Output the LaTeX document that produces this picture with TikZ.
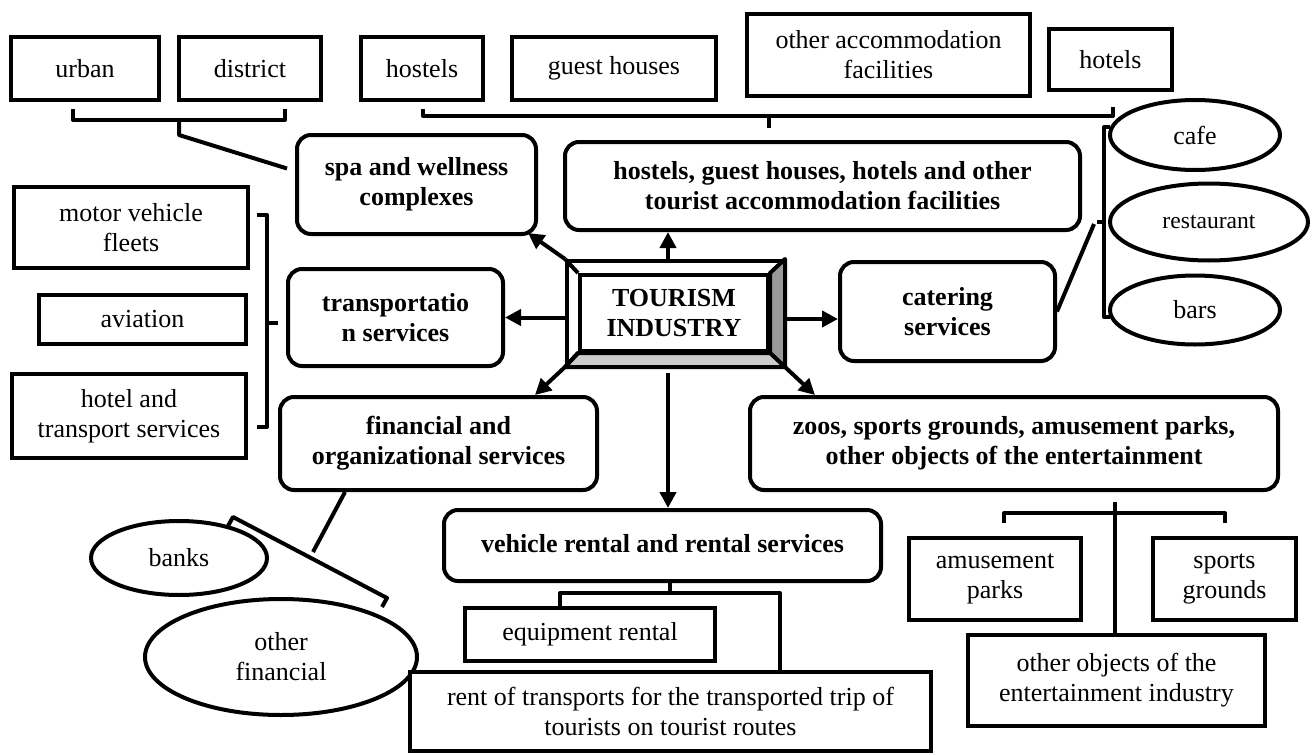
\documentclass[tikz,border=0pt]{standalone}
\usepackage{fontspec}
\setmainfont{Liberation Serif}
\usetikzlibrary{calc,arrows.meta,shapes.geometric}
\begin{document}
\begin{tikzpicture}[x=0.5pt,y=-0.5pt,
  every node/.style={font=\fontsize{13}{15}\selectfont, align=center, inner sep=0pt},
  plain/.style={draw, line width=2pt, fill=white, rectangle},
  rbox/.style={plain, rounded corners=7pt, font=\bfseries\fontsize{13}{15}\selectfont},
  ell/.style={draw, line width=2pt, fill=white, ellipse},
  conn/.style={line width=2pt, line join=round},
  arr/.style={line width=2pt, -{Triangle[length=8pt,width=8pt]}}
]
\useasboundingbox (0,0) rectangle (1313,755);

% top row
\node[plain, minimum width=74pt, minimum height=31.5pt] (urban) at (85,68.5) {urban};
\node[plain, minimum width=71pt, minimum height=31.5pt] (district) at (250,68.5) {district};
\node[plain, minimum width=61pt, minimum height=31.5pt] (hostels) at (422,68.5) {hostels};
\node[plain, minimum width=102pt, minimum height=31.5pt] (guest) at (614,68.5) {guest houses};
\node[plain, minimum width=141.5pt, minimum height=41pt] (otheracc) at (888.5,55) {other accommodation\\facilities};
\node[plain, minimum width=61.5pt, minimum height=30.5pt] (hotels) at (1110.5,59.5) {hotels};

% second level
\node[rbox, minimum width=119.5pt, minimum height=49.5pt] (spa) at (416.5,184.5) {spa and wellness\\complexes};
\node[rbox, minimum width=257.5pt, minimum height=44pt] (acc) at (822.5,186) {hostels, guest houses, hotels and other\\tourist accommodation facilities};

% left column
\node[plain, minimum width=117pt, minimum height=40.5pt] (motor) at (131,227.5) {motor vehicle\\fleets};
\node[plain, minimum width=103.5pt, minimum height=24.5pt] (aviation) at (142.5,319.5) {aviation};
\node[plain, minimum width=117pt, minimum height=42pt] (hoteltr) at (129,416) {hotel and\\transport services};

\node[rbox, minimum width=107.5pt, minimum height=48.5pt] (transp) at (395.5,317.5) {transportatio\\n services};
\node[rbox, minimum width=107.5pt, minimum height=49.5pt] (catering) at (947.5,311.5) {catering\\services};

% central node
\node[plain, minimum width=108pt, minimum height=52pt] (tour) at (675,313) {};
\node[plain, minimum width=94pt, minimum height=38pt, font=\bfseries\fontsize{13}{15}\selectfont] (tourin) at (674,313) {TOURISM\\INDUSTRY};
\filldraw[fill=black!40, line width=2pt, line join=round] (tour.north east) -- (tourin.north east) -- (tourin.south east) -- (tour.south east) -- cycle;
\filldraw[fill=black!20, line width=2pt, line join=round] (tour.south west) -- (tourin.south west) -- (tourin.south east) -- (tour.south east) -- cycle;
\draw[line width=2pt, line join=round] (tour.north west) -- (tourin.north west) (tour.south west) -- (tourin.south west);

% ellipses right
\node[ell, minimum width=85pt, minimum height=35pt] (cafe) at (1195,135) {cafe};
\node[ell, minimum width=99pt, minimum height=38.5pt, font=\fontsize{11.8}{14}\selectfont] (rest) at (1209,222) {restaurant};
\node[ell, minimum width=85pt, minimum height=34.5pt] (bars) at (1195,310) {bars};

% lower level
\node[rbox, minimum width=158.5pt, minimum height=46.5pt] (fin) at (438.5,443.5) {financial and\\organizational services};
\node[rbox, minimum width=264pt, minimum height=46.5pt] (zoos) at (1014,443.5) {zoos, sports grounds, amusement parks,\\other objects of the entertainment};
\node[rbox, minimum width=218.5pt, minimum height=35.5pt] (rental) at (662.5,545.5) {\raisebox{2pt}{vehicle rental and rental services}};

\node[plain, minimum width=86pt, minimum height=41pt] (amuse) at (995,579) {amusement\\parks};
\node[plain, minimum width=71.5pt, minimum height=41pt] (sports) at (1224.5,579) {sports\\grounds};
\node[plain, minimum width=148.5pt, minimum height=45.5pt] (otherobj) at (1116.5,680.5) {other objects of the\\entertainment industry};

\node[ell, minimum width=88pt, minimum height=37pt] (banks) at (179,558) {banks};
\node[ell, minimum width=136pt, minimum height=58pt] (otherfin) at (281,657) {other\\financial};

% rental bracket (behind the boxes)
\coordinate (rstem) at (670,593);
\coordinate (rl) at (560,593);
\coordinate (rr) at (780,593);
\draw[conn] (rental.south -| rstem) -- (rstem);
\draw[conn] (rl |- 0,608) -- (rl) -- (rr) -- (rr |- 0,672);
\node[plain, minimum width=125pt, minimum height=26.5pt] (equip) at (590,634.5) {equipment rental};
\node[plain, minimum width=260.5pt, minimum height=39.5pt] (rent) at (670.5,711.5) {rent of transports for the transported trip of\\tourists on tourist routes};

% arrows from the centre
\draw[arr] ([xshift=-3.5pt]tour.north) -- ([xshift=-3.5pt]tour.north |- acc.south);
\draw[arr] ([xshift=-3.5pt,yshift=-3pt]tour.south) -- ([xshift=-3.5pt]tour.south |- rental.north);
\draw[arr] (tour.west |- transp.east) -- (transp.east);
\draw[arr] ([yshift=-3pt]tour.east) -- ([yshift=-3pt]tour.east -| catering.west);
\draw[arr] (tour.north west) -- ($(spa.south east)+(-10,-3)$);
\draw[arr] (tour.south west) -- ($(fin.north east)+(-64,0)$);
\draw[arr] (tour.south east) -- ($(zoos.north west)+(67,0)$);

% urban / district bracket
\coordinate (ua) at (73,109);
\coordinate (ub) at (285,109);
\coordinate (um) at (179,120);
\draw[conn] (ua) -- (ua |- um) -- (ub |- um) -- (ub);
\draw[conn] (um) -- ++(0,15) -- ($(spa.west)+(-8,-16)$);

% accommodation bracket
\coordinate (aa) at (423,109);
\coordinate (ab) at (1113,107);
\coordinate (am) at (769,116);
\draw[conn] (aa) -- (aa |- am) -- (ab |- am) -- (ab);
\draw[conn] (am) -- (769,128);

% transport bracket
\coordinate (ta) at (257,215);
\coordinate (tb) at (257,427);
\coordinate (tm) at (267,323);
\draw[conn] (ta) -- (ta -| tm) -- (tb -| tm) -- (tb);
\draw[conn] (tm) -- (278,323);

% catering bracket
\coordinate (ca) at (1110,127);
\coordinate (cb) at (1110,317);
\coordinate (cm) at (1104,222);
\draw[conn] (ca) -- (ca -| cm) -- (cb -| cm) -- (cb);
\draw[conn] (1097,222) -- (cm);
\draw[conn] (1094,224) -- (catering.east);

% financial bracket
\coordinate (fa) at (233,517);
\coordinate (fb) at (387,598);
\coordinate (fm) at (313,552);
\draw[conn] (228,526) -- (fa) -- (fb) -- (382,607);
\draw[conn] ($(fin.south west)+(67,0)$) -- (fm);

% zoos bracket
\coordinate (za) at (1004,513);
\coordinate (zb) at (1225,513);
\coordinate (zm) at (1115,502);
\draw[conn] (za |- 0,523) -- (za) -- (zb) -- (zb |- 0,523);
\draw[conn] (zm) -- (otherobj.north -| zm);
\end{tikzpicture}
\end{document}
